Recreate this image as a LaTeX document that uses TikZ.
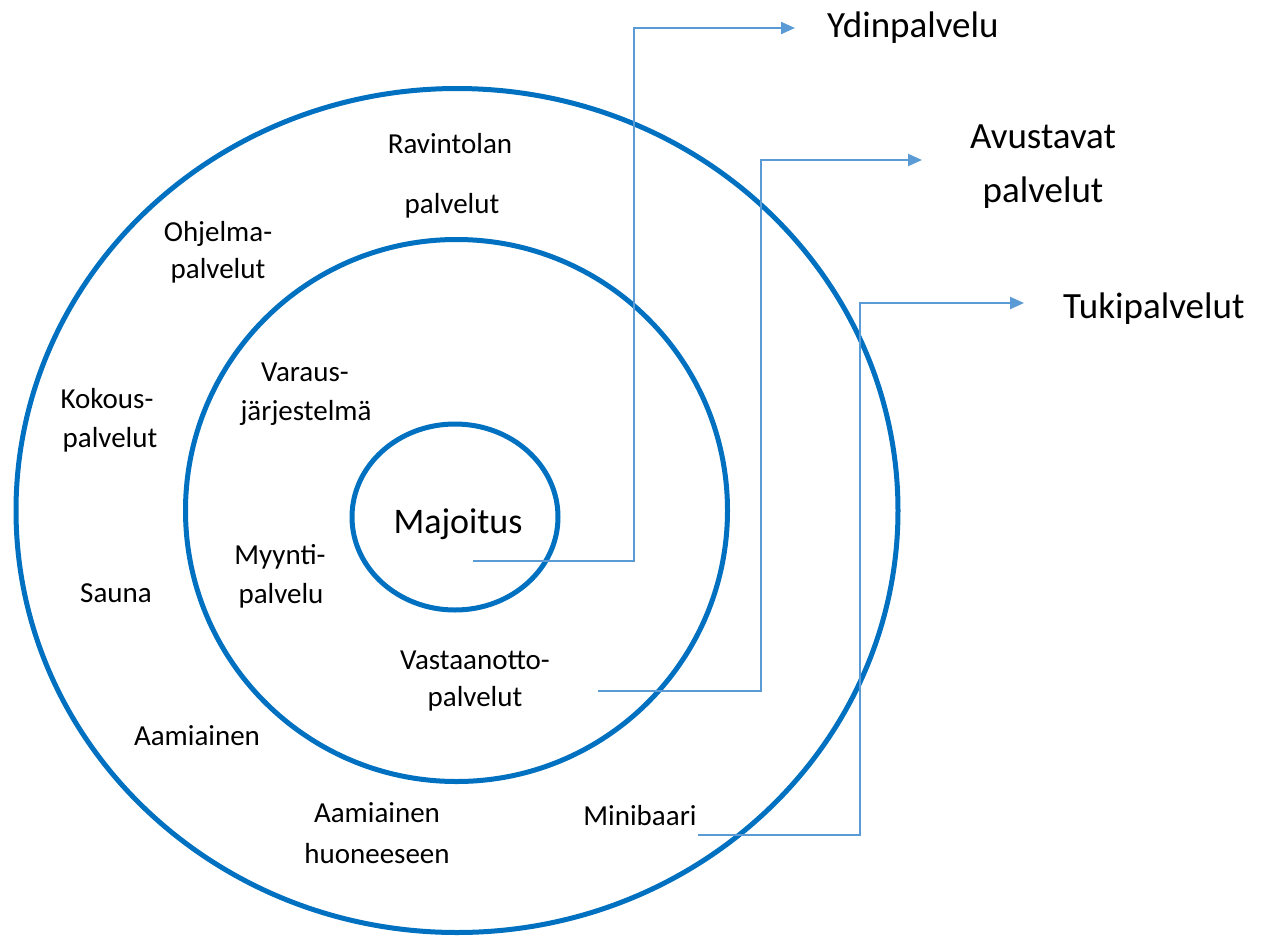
\documentclass[tikz,border=0pt]{standalone}
\usepackage{fontspec}
\setmainfont{Carlito}
\usetikzlibrary{arrows.meta}
\definecolor{ringblue}{RGB}{0,112,192}
\definecolor{linkblue}{RGB}{91,155,213}
\begin{document}
\begin{tikzpicture}[x=1pt,y=-1pt,
  ring/.style={draw=ringblue,line width=5pt},
  link/.style={draw=linkblue,line width=2.2pt,-{Triangle[length=14pt,width=12pt]}},
  lab/.style={font=\fontsize{29}{35}\selectfont,inner sep=0pt,text height=20pt,text depth=0pt},
  big/.style={font=\fontsize{37}{44}\selectfont,inner sep=0pt,text height=21pt,text depth=0pt}]
\useasboundingbox (0,0) rectangle (1262,938);
\fill[white] (0,0) rectangle (1262,938);
% rings
\draw[ring] (457,510.5) ellipse [x radius=441, y radius=422];
\draw[ring] (456.5,510.5) ellipse [x radius=271, y radius=271];
\draw[ring] (455,517) ellipse [x radius=103, y radius=93];
% labels
\node[lab] (rav1) at (450,143) {Ravintolan};
\node[lab] (rav2) at (452,203) {palvelut};
\node[lab] (ohj1) at (218,231) {Ohjelma-};
\node[lab] (ohj2) at (218,268) {palvelut};
\node[lab] (kok1) at (107,398) {Kokous-};
\node[lab] (kok2) at (110,437) {palvelut};
\node[lab] (var1) at (305,371) {Varaus-};
\node[lab] (var2) at (306,410) {järjestelmä};
\node[big,font=\fontsize{36}{43}\selectfont,text height=24pt] (maj) at (458,521) {Majoitus};
\node[lab] (myy1) at (280,554) {Myynti-};
\node[lab] (myy2) at (281,593) {palvelu};
\node[lab] (sau) at (116,592) {Sauna};
\node[lab] (vas1) at (475,659) {Vastaanotto-};
\node[lab] (vas2) at (475,696) {palvelut};
\node[lab] (aam) at (197,735) {Aamiainen};
\node[lab] (aah1) at (377,812) {Aamiainen};
\node[lab] (aah2) at (377,853) {huoneeseen};
\node[lab] (min) at (640,815) {Minibaari};
\node[big,anchor=west] (ydin) at (827,27) {Ydinpalvelu};
\node[big] (avu1) at (1043,138) {Avustavat};
\node[big] (avu2) at (1043,192) {palvelut};
\node[big,anchor=west] (tuki) at (1063,308) {Tukipalvelut};
% connector ends
\coordinate (s1) at (473,561);
\coordinate (t1) at (795,28);
\coordinate (s2) at (598,691);
\coordinate (t2) at (922,160);
\coordinate (s3) at (698,835);
\coordinate (t3) at (1024,303);
\draw[link] (s1) -- (634,561) -- (634,28) -- (t1);
\draw[link] (s2) -- (761,691) -- (761,160) -- (t2);
\draw[link] (s3) -- (860,835) -- (860,303) -- (t3);
\end{tikzpicture}
\end{document}
